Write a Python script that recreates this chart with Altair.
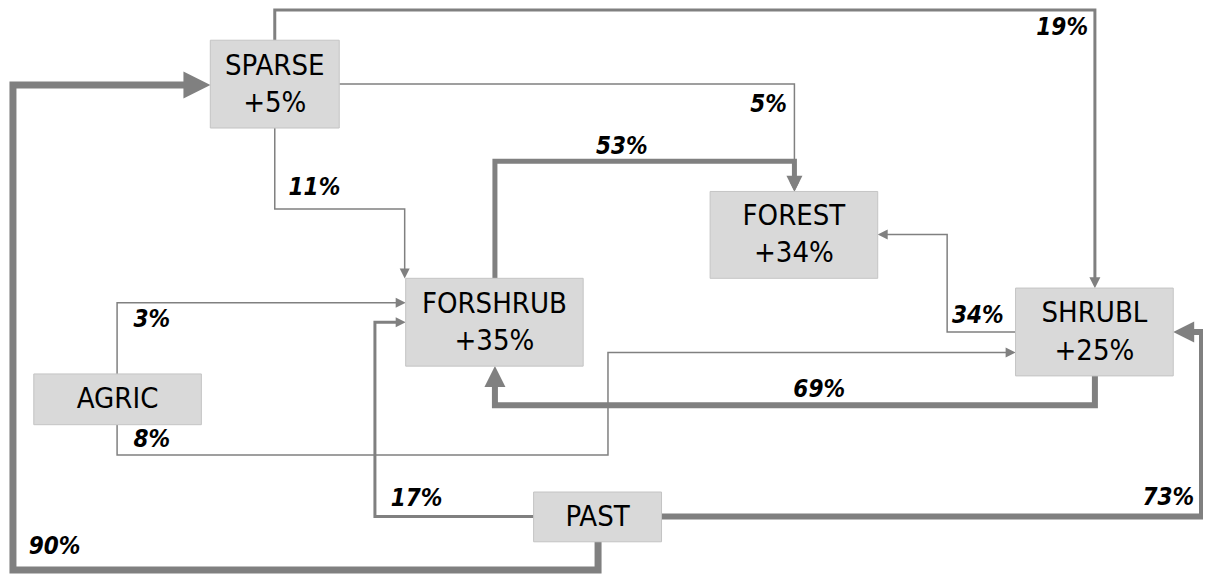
import altair as alt
import pandas as pd

# ---- nodes (reference-pixel layout) ----
node_names = ["SPARSE", "FOREST", "FORSHRUB", "SHRUBL", "AGRIC", "PAST"]
node_change = ["+5%", "+34%", "+35%", "+25%", "", ""]
node_x0 = [207, 711, 404, 1019, 29, 533]
node_x1 = [337, 880, 583, 1178, 198, 662]
node_y0 = [34, 189, 278, 288, 376, 497]
node_y1 = [124, 278, 368, 378, 428, 548]

# ---- flows ----
edge_labels = ["19%", "5%", "11%", "53%", "34%", "3%", "8%", "69%", "17%", "73%", "90%"]
edge_px = [
    [272, 272, 1099, 1099],
    [337, 796, 796],
    [272, 272, 403, 403],
    [494, 494, 796, 796],
    [1019, 950, 950, 880],
    [113, 113, 404],
    [113, 113, 608, 608, 1019],
    [1099, 1099, 494, 494],
    [533, 373, 373, 404],
    [662, 1207, 1207, 1178],
    [598, 598, 8, 8, 207],
]
edge_py = [
    [34, 3, 3, 288],
    [79, 79, 189],
    [124, 207, 207, 278],
    [278, 158, 158, 189],
    [333, 333, 233, 233],
    [376, 303, 303],
    [428, 459, 459, 354, 354],
    [378, 408, 408, 368],
    [522, 522, 323, 323],
    [522, 522, 333, 333],
    [548, 577, 577, 80, 80],
]
edge_width = [3, 1.5, 1.5, 5, 1.5, 1.5, 1.5, 6, 3, 6, 7]
edge_head = [11, 10, 10, 16, 10, 10, 10, 21, 10, 21, 27]
label_x = [1066, 770, 312, 622, 981, 148, 148, 821, 415, 1173, 50]
label_y = [21, 100, 185, 143, 317, 321, 444, 392, 504, 503, 553]

GRAY = "#808080"
FONT = "DejaVu Sans Condensed, DejaVu Sans"

# ---- build tables ----
line_rows, head_rows = [], []
for i, (xs, ys) in enumerate(zip(edge_px, edge_py)):
    tx, ty = xs[-1], ys[-1]
    px, py = xs[-2], ys[-2]
    dx = (tx > px) - (tx < px)
    dy = (ty > py) - (ty < py)
    L = edge_head[i]
    for k, (x, y) in enumerate(zip(xs, ys)):
        if k == len(xs) - 1:
            x = tx - dx * L * 0.7
            y = ty - dy * L * 0.7
        line_rows.append({"edge": i, "k": k, "x": x, "y": y, "w": edge_width[i]})
    if dx == 1:
        ang = 0
    elif dx == -1:
        ang = 180
    elif dy == 1:
        ang = 90
    else:
        ang = 270
    head_rows.append({"edge": i, "x": tx - dx * L / 2, "y": ty - dy * L / 2,
                      "ang": ang, "size": L * L})

lines = pd.DataFrame(line_rows)
heads = pd.DataFrame(head_rows)
labels = pd.DataFrame({"t": edge_labels, "x": label_x, "y": label_y})
nodes = pd.DataFrame({"name": node_names, "chg": node_change,
                      "x0": node_x0, "x1": node_x1, "y0": node_y0, "y1": node_y1})
nodes["cx"] = (nodes.x0 + nodes.x1) / 2
nodes["cy"] = (nodes.y0 + nodes.y1) / 2
nodes["ny"] = [c - 19 if s else c for c, s in zip(nodes.cy, nodes.chg)]
nodes["sy"] = nodes.cy + 19

W, H = 1195, 566
xs = alt.Scale(domain=[3, 1208], nice=False, zero=False)
ys = alt.Scale(domain=[1, 581], nice=False, zero=False, reverse=True)
X = lambda f: alt.X(f, type="quantitative", scale=xs, axis=None)
Y = lambda f: alt.Y(f, type="quantitative", scale=ys, axis=None)

line_layer = alt.Chart(lines).mark_line(color=GRAY, strokeJoin="miter", strokeCap="butt").encode(
    x=X("x"), y=Y("y"), detail="edge:N", order="k:Q",
    strokeWidth=alt.StrokeWidth("w:Q", scale=None),
)
head_layer = alt.Chart(heads).mark_point(
    shape="M-1,-1L1,0L-1,1Z", filled=True, color=GRAY, opacity=1, strokeWidth=0
).encode(
    x=X("x"), y=Y("y"),
    angle=alt.Angle("ang:Q", scale=None),
    size=alt.Size("size:Q", scale=None),
)
box_layer = alt.Chart(nodes).mark_rect(fill="#d9d9d9", stroke="#c4c4c4", strokeWidth=1).encode(
    x=X("x0"), x2="x1", y=Y("y0"), y2="y1"
)
name_layer = alt.Chart(nodes).mark_text(font=FONT, fontSize=29, color="black", baseline="middle").encode(
    x=X("cx"), y=Y("ny"), text="name:N"
)
chg_layer = alt.Chart(nodes).mark_text(font=FONT, fontSize=29, color="black", baseline="middle").encode(
    x=X("cx"), y=Y("sy"), text="chg:N"
)
lab_layer = alt.Chart(labels).mark_text(
    font=FONT, fontSize=24, fontWeight="bold", fontStyle="italic", color="black", baseline="middle"
).encode(x=X("x"), y=Y("y"), text="t:N")

chart = alt.layer(line_layer, head_layer, box_layer, name_layer, chg_layer, lab_layer).properties(
    width=W, height=H, padding=0, autosize=alt.AutoSizeParams(type="none"), background="white"
).configure_view(stroke=None)

chart.save("out.html", embed_options={"renderer": "svg", "actions": False})
